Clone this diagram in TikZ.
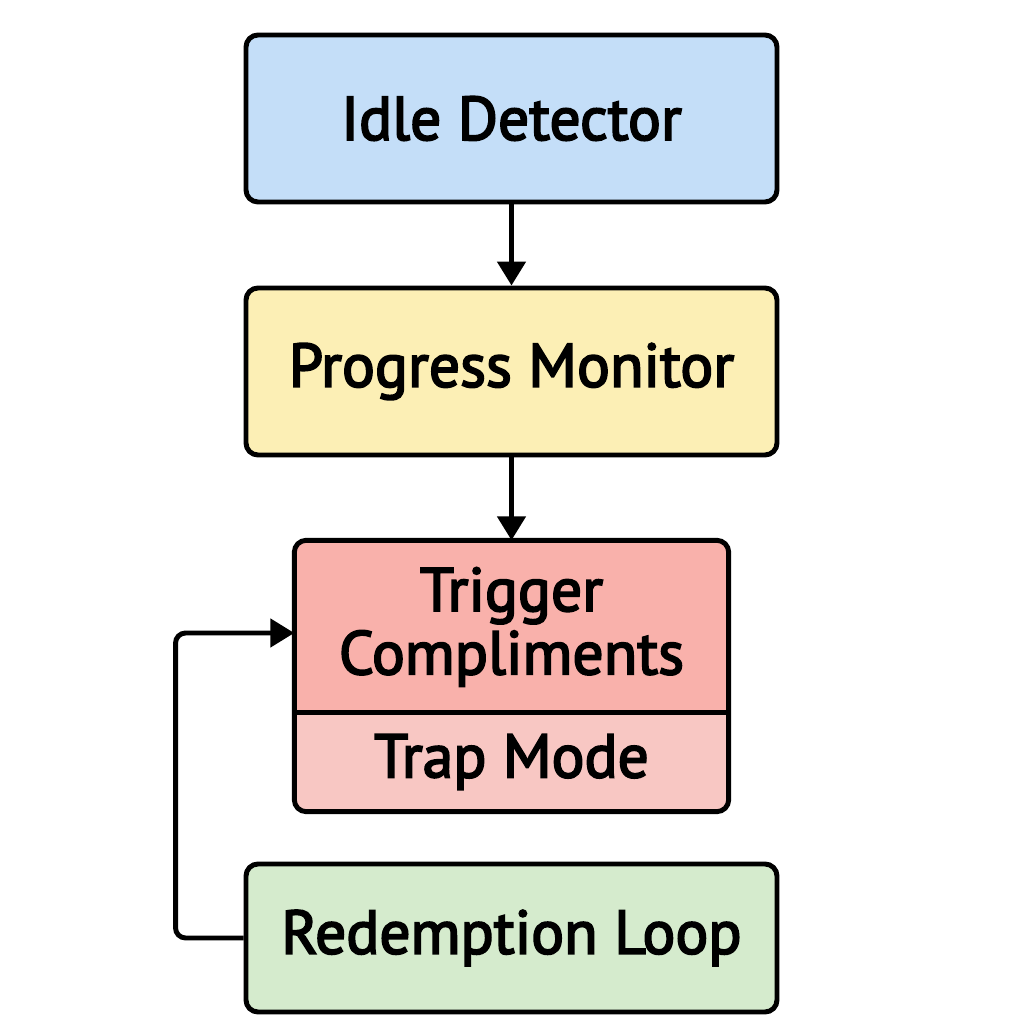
\documentclass[tikz,border=0pt]{standalone}
\usepackage{fontspec}
\newfontfamily\stagefont{PT Sans}[FakeBold=3]
\usetikzlibrary{arrows.meta,backgrounds}

\definecolor{idleblue}{HTML}{C4DEF8}
\definecolor{progyellow}{HTML}{FCEFB5}
\definecolor{trigred}{HTML}{F9B1AB}
\definecolor{traprose}{HTML}{F8C7C3}
\definecolor{redgreen}{HTML}{D5EBCD}

\tikzset{
    stagebox/.style={draw, line width=1.4pt, rounded corners=0.12cm, minimum width=5.31cm, minimum height=1.67cm, font=\stagefont\fontsize{17.5}{20}\selectfont},
    flowarrow/.style={line width=1.4pt, -{Triangle[length=0.24cm, width=0.28cm]}}
}

\begin{document}
\begin{tikzpicture}
    \useasboundingbox (0,0) rectangle (10.24,10.24);

    \node[stagebox, fill=idleblue] (idle) at (5.115, 9.055) {Idle Detector};
    \node[stagebox, fill=progyellow] (prog) at (5.115, 6.525) {Progress Monitor};

    \node[minimum width=4.33cm, minimum height=1.72cm, align=center, font=\stagefont\fontsize{17.5}{18}\selectfont] (trig) at (5.115, 3.97) {Trigger\\Compliments};
    \node[minimum width=4.33cm, minimum height=0.98cm, font=\stagefont\fontsize{17.5}{20}\selectfont] (trap) at (5.115, 2.62) {Trap Mode};

    \begin{scope}[on background layer]
        \fill[traprose, rounded corners=0.12cm] (trig.north west) rectangle (trap.south east);
        \begin{scope}
            \clip[rounded corners=0.12cm] (trig.north west) rectangle (trap.south east);
            \fill[trigred] (trig.north west) rectangle (trig.south east);
        \end{scope}
    \end{scope}
    \draw[line width=1.4pt, rounded corners=0.12cm] (trig.north west) rectangle (trap.south east);
    \draw[line width=1.4pt] (trap.north west) -- (trap.north east);

    \node[stagebox, fill=redgreen, minimum height=1.48cm] (loop) at (5.115, 0.86) {Redemption Loop};

    \draw[flowarrow] (idle) -- (prog);
    \draw[flowarrow] (prog) -- (trig);
    \draw[flowarrow, rounded corners=0.1cm] (loop.west) -- ++(-0.68,0) |- ([yshift=-0.06cm]trig.west);
\end{tikzpicture}
\end{document}
